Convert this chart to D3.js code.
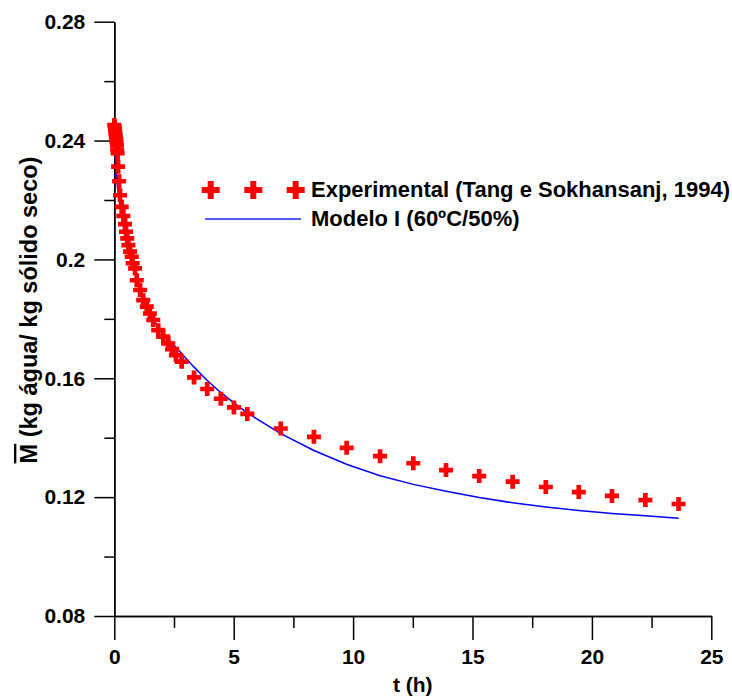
<!DOCTYPE html>
<html>
<head>
<meta charset="utf-8">
<script src="https://cdn.jsdelivr.net/npm/d3@7"></script>
<style>
  body { margin: 0; background: #fff; }
  svg { display: block; font-family: "Liberation Sans", Arial, sans-serif; font-weight: bold; }
  .axis path, .axis line { stroke: #000; stroke-width: 1.5; }
  .axis text { font-size: 21px; font-weight: bold; fill: #000; font-family: "Liberation Sans", Arial, sans-serif; }
</style>
</head>
<body>
<svg id="chart"></svg>
<script>
// experimental drying data (Tang e Sokhansanj, 1994)
const expT = [0.00, 0.02, 0.03, 0.05, 0.06, 0.08, 0.09, 0.11, 0.12, 0.14,
  0.16, 0.20, 0.24, 0.31, 0.38, 0.45, 0.49, 0.54, 0.59, 0.66, 0.73, 0.77, 0.87, 0.94,
  1.08, 1.21, 1.36, 1.49, 1.63, 1.84, 2.05, 2.26, 2.42, 2.58, 2.82,
  3.34, 3.89, 4.46, 5.01, 5.57, 6.97, 8.36, 9.73, 11.13, 12.52, 13.89,
  15.28, 16.68, 18.07, 19.45, 20.84, 22.24, 23.63];
const expM = [0.2452, 0.2445, 0.2435, 0.2425, 0.2415, 0.2405, 0.2395, 0.2385, 0.2370, 0.2358,
  0.2312, 0.2263, 0.2216, 0.2177, 0.2146, 0.2119, 0.2093, 0.2071, 0.2048, 0.2026, 0.2009, 0.1987, 0.1970, 0.1930,
  0.1897, 0.1863, 0.1841, 0.1818, 0.1796, 0.1762, 0.1740, 0.1717, 0.1698, 0.1678, 0.1656,
  0.1603, 0.1564, 0.1531, 0.1502, 0.1480, 0.1431, 0.1403, 0.1366, 0.1338, 0.1314, 0.1291,
  0.1271, 0.1252, 0.1234, 0.1217, 0.1204, 0.1190, 0.1177];

// Modelo I (60ºC/50%)
const modelT = [0, 0.01, 0.05, 0.10, 0.17, 0.24, 0.31, 0.45, 0.59, 0.73, 0.87, 1.08, 1.36, 1.63,
  2.05, 2.6, 3.31, 3.87, 4.43, 5.01, 5.54, 6.97, 8.36, 9.75, 11.13, 12.52, 13.9,
  15.28, 16.68, 18.07, 19.45, 20.84, 22.24, 23.63];
const modelM = [0.2445, 0.2390, 0.2330, 0.2270, 0.2220, 0.2180, 0.2150, 0.2095, 0.2045, 0.2000, 0.1960, 0.1905, 0.1845, 0.1797,
  0.1750, 0.1703, 0.1640, 0.1594, 0.1554, 0.1517, 0.1485, 0.1414, 0.1357, 0.1310, 0.1272, 0.1243, 0.1220,
  0.1199, 0.1181, 0.1167, 0.1155, 0.1145, 0.1137, 0.1129];

const xTicks = [0, 5, 10, 15, 20, 25];
const xMinor = [2.5, 7.5, 12.5, 17.5, 22.5];
const yTicks = [0.08, 0.12, 0.16, 0.2, 0.24, 0.28];
const yTickLabels = ["0.08", "0.12", "0.16", "0.2", "0.24", "0.28"];
const yMinor = [0.10, 0.14, 0.18, 0.22, 0.26];

const legendLabels = ["Experimental (Tang e Sokhansanj, 1994)", "Modelo I (60ºC/50%)"];

const width = 732, height = 698;
const margin = { top: 21.7, right: 20.7, bottom: 82, left: 114.3 };
const innerW = width - margin.left - margin.right;
const innerH = height - margin.top - margin.bottom;

const svg = d3.select("#chart").attr("width", width).attr("height", height);
const g = svg.append("g").attr("transform", "translate(" + margin.left + "," + margin.top + ")");

const x = d3.scaleLinear().domain([0, 25]).range([0, innerW]);
const y = d3.scaleLinear().domain([0.08, 0.28]).range([innerH, 0]);

// minor ticks first, no labels
g.append("g").attr("class", "axis")
  .attr("transform", "translate(0," + innerH + ")")
  .call(d3.axisBottom(x).tickValues(xMinor).tickSize(12).tickSizeOuter(0).tickFormat(""));
g.append("g").attr("class", "axis")
  .call(d3.axisLeft(y).tickValues(yMinor).tickSize(10).tickSizeOuter(0).tickFormat(""));

g.append("g").attr("class", "axis")
  .attr("transform", "translate(0," + innerH + ")")
  .call(d3.axisBottom(x).tickValues(xTicks).tickSize(24).tickSizeOuter(0).tickPadding(9));

g.append("g").attr("class", "axis")
  .call(d3.axisLeft(y).tickValues(yTicks).tickSize(20).tickSizeOuter(0).tickPadding(9)
    .tickFormat((d, i) => yTickLabels[i]));

// axis titles
g.append("text")
  .attr("x", x(12.5))
  .attr("y", innerH + 76)
  .attr("text-anchor", "middle")
  .style("font-size", "21px")
  .text("t (h)");

const yTitle = svg.append("text")
  .attr("transform", "translate(37,310) rotate(-90)")
  .attr("text-anchor", "middle")
  .style("font-size", "23.5px");
yTitle.append("tspan").style("text-decoration", "overline").text("M");
yTitle.append("tspan").text(" (kg água/ kg sólido seco)");

// model line
const modelData = modelT.map((t, i) => ({ t: t, m: modelM[i] }));
const line = d3.line().x(d => x(d.t)).y(d => y(d.m));
g.append("path")
  .datum(modelData)
  .attr("fill", "none")
  .attr("stroke", "#0000ff")
  .attr("stroke-width", 1.5)
  .attr("d", line);

// experimental crosses
const expData = expT.map((t, i) => ({ t: t, m: expM[i] }));
const cross = d3.symbol().type(d3.symbolCross).size(109);
g.selectAll(".pt")
  .data(expData)
  .join("path")
  .attr("class", "pt")
  .attr("fill", "#ff0000")
  .attr("transform", d => "translate(" + x(d.t) + "," + y(d.m) + ")")
  .attr("d", cross);

// legend
const legend = svg.append("g");
const bigCross = d3.symbol().type(d3.symbolCross).size(180);
[210.7, 253.3, 295.7].forEach(cx => {
  legend.append("path")
    .attr("fill", "#ff0000")
    .attr("transform", "translate(" + cx + ",190)")
    .attr("d", bigCross);
});
legend.append("line")
  .attr("x1", 205).attr("x2", 301)
  .attr("y1", 219).attr("y2", 219)
  .attr("stroke", "#2020ff").attr("stroke-width", 1.5);
legend.selectAll(".lab")
  .data(legendLabels)
  .join("text")
  .attr("class", "lab")
  .attr("x", 311)
  .attr("y", (d, i) => 197 + i * 29)
  .style("font-size", "22px")
  .text(d => d);
</script>
</body>
</html>
